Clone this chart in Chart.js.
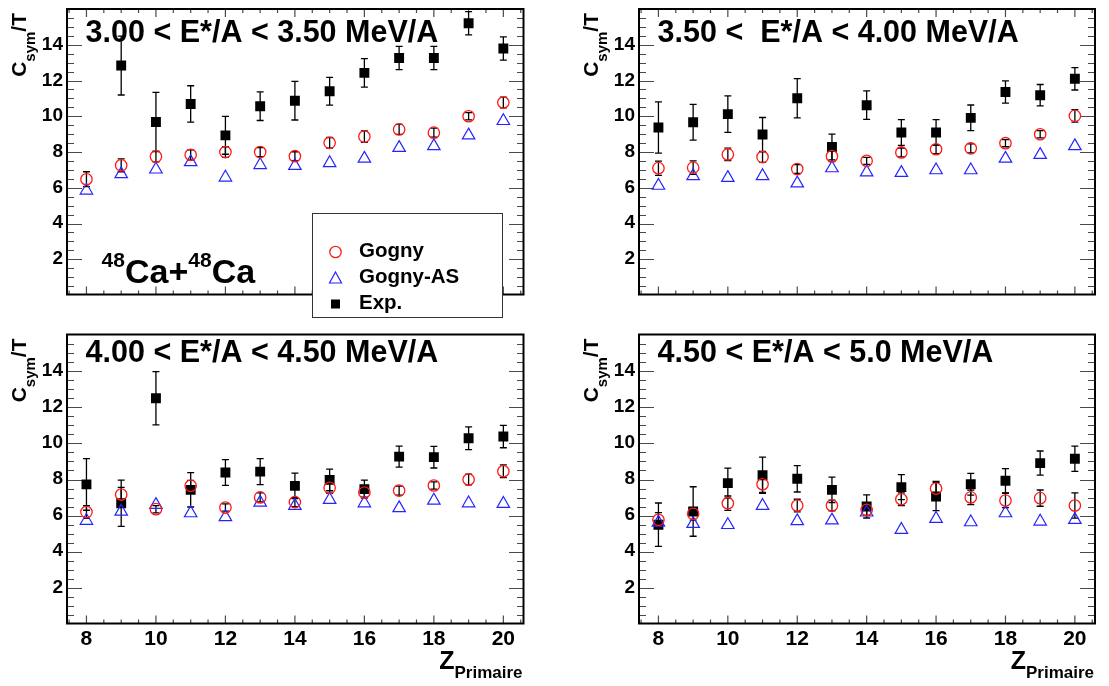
<!DOCTYPE html>
<html lang="en">
<head>
<meta charset="UTF-8">
<title>Csym/T vs Z primaire</title>
<script src="https://cdn.jsdelivr.net/npm/chart.js@4"></script>
<style>
  body { margin: 0; background: #ffffff; }
  #wrap { position: relative; width: 1109px; height: 686px; }
  #wrap canvas { position: absolute; left: 0; top: 0; }
</style>
</head>
<body>
<div id="wrap">
  <canvas id="p1" width="1109" height="686"></canvas>
  <canvas id="p2" width="1109" height="686"></canvas>
  <canvas id="p3" width="1109" height="686"></canvas>
  <canvas id="p4" width="1109" height="686"></canvas>
</div>
<script>
// ---- data ----
const zPrimaire = [8, 9, 10, 11, 12, 13, 14, 15, 16, 17, 18, 19, 20];
const xTickValues = [8, 10, 12, 14, 16, 18, 20];
const yTickValues = [2, 4, 6, 8, 10, 12, 14];
const seriesNames = ['Gogny', 'Gogny-AS', 'Exp.'];
const panelTitles = [
  '3.00 < E*/A < 3.50 MeV/A',
  '3.50 <  E*/A < 4.00 MeV/A',
  '4.00 < E*/A < 4.50 MeV/A',
  '4.50 < E*/A < 5.0 MeV/A'
];

// 3.00 - 3.50 MeV/A
const gogny1    = [6.46, 7.24, 7.73, 7.83, 7.98, 7.98, 7.75, 8.50, 8.85, 9.25, 9.07, 9.99, 10.76];
const gognyErr1 = [0.42, 0.36, 0.30, 0.28, 0.30, 0.25, 0.25, 0.30, 0.32, 0.28, 0.25, 0.20, 0.30];
const gognyAS1  = [5.83, 6.75, 7.01, 7.42, 6.56, 7.26, 7.21, 7.37, 7.62, 8.22, 8.32, 8.92, 9.73];
const exp1      = [null, 12.83, 9.67, 10.68, 8.92, 10.55, 10.86, 11.39, 12.42, 13.25, 13.25, 15.20, 13.79];
const expErr1   = [0, 1.65, 1.66, 1.02, 1.06, 0.80, 1.08, 0.78, 0.80, 0.65, 0.65, 0.65, 0.65];

// 3.50 - 4.00 MeV/A
const gogny2    = [7.08, 7.11, 7.85, 7.70, 7.03, 7.75, 7.49, 7.96, 8.14, 8.19, 8.48, 8.98, 10.01];
const gognyErr2 = [0.40, 0.38, 0.35, 0.30, 0.25, 0.30, 0.20, 0.25, 0.25, 0.25, 0.20, 0.20, 0.35];
const gognyAS2  = [6.10, 6.64, 6.54, 6.64, 6.23, 7.08, 6.85, 6.82, 6.97, 6.97, 7.62, 7.83, 8.32];
const exp2      = [9.36, 9.65, 10.11, 8.97, 11.00, 8.27, 10.61, 9.08, 9.08, 9.90, 11.35, 11.17, 12.09];
const expErr2   = [1.44, 1.00, 1.02, 0.95, 1.10, 0.72, 0.80, 0.72, 0.72, 0.72, 0.62, 0.60, 0.63];

// 4.00 - 4.50 MeV/A
const gogny3    = [6.17, 7.14, 6.33, 7.62, 6.42, 6.98, 6.72, 7.51, 7.25, 7.36, 7.64, 7.97, 8.43];
const gognyErr3 = [0.35, 0.40, 0.20, 0.30, 0.20, 0.25, 0.25, 0.30, 0.25, 0.25, 0.20, 0.30, 0.35];
const gognyAS3  = [5.69, 6.20, 6.57, 6.11, 5.89, 6.70, 6.52, 6.85, 6.66, 6.39, 6.81, 6.66, 6.63];
const exp3      = [7.70, 6.66, 12.47, 7.40, 8.36, 8.41, 7.62, 7.95, 7.44, 9.24, 9.21, 10.26, 10.35];
const expErr3   = [1.43, 1.28, 1.47, 0.95, 0.71, 0.72, 0.70, 0.60, 0.50, 0.58, 0.60, 0.63, 0.62];

// 4.50 - 5.0 MeV/A
const gogny4    = [5.74, 6.07, 6.66, 7.71, 6.53, 6.53, 6.29, 6.88, 7.47, 6.98, 6.81, 6.94, 6.53];
const gognyErr4 = [0.40, 0.35, 0.40, 0.45, 0.35, 0.30, 0.30, 0.35, 0.40, 0.40, 0.40, 0.45, 0.70];
const gognyAS4  = [5.59, 5.52, 5.46, 6.52, 5.67, 5.71, 6.15, 5.19, 5.80, 5.61, 6.11, 5.65, 5.74];
const exp4      = [5.47, 6.20, 7.77, 8.21, 8.01, 7.40, 6.48, 7.55, 7.03, 7.71, 7.90, 8.88, 9.12];
const expErr4   = [1.20, 1.37, 0.83, 1.00, 0.73, 0.70, 0.64, 0.69, 0.78, 0.60, 0.67, 0.67, 0.70];

// ---- look ----
const FONT = '"Liberation Sans", Arial, Helvetica, sans-serif';
const X_MIN = 7.44, X_MAX = 20.58, Y_MIN = 0, Y_MAX = 16;
const W = 1109, H = 686;
const RED = '#ff1a1a', BLUE = '#2424ff';
const TICK = '#4a4a4a';

function toPoints(vals, errs) {
  return zPrimaire
    .map((z, i) => ({ x: z, y: vals[i], err: errs ? errs[i] : 0 }))
    .filter(p => p.y !== null);
}

// draw a run of text pieces (sub/superscripts) left to right
function drawRich(ctx, parts, x, y, align) {
  let total = 0;
  parts.forEach(p => {
    ctx.font = 'bold ' + p.size + 'px ' + FONT;
    p.w = ctx.measureText(p.t).width;
    total += p.w;
  });
  let cx = align === 'right' ? x - total : x;
  parts.forEach(p => {
    ctx.font = 'bold ' + p.size + 'px ' + FONT;
    ctx.fillText(p.t, cx, y + p.dy);
    cx += p.w;
  });
}

function marker(ctx, style, x, y) {
  ctx.beginPath();
  if (style === 'circle') {
    ctx.strokeStyle = RED; ctx.lineWidth = 1.3;
    ctx.arc(x, y, 5.7, 0, Math.PI * 2);
    ctx.stroke();
  } else if (style === 'triangle') {
    ctx.strokeStyle = BLUE; ctx.lineWidth = 1.2;
    ctx.moveTo(x, y - 6); ctx.lineTo(x + 6, y + 5); ctx.lineTo(x - 6, y + 5); ctx.closePath();
    ctx.stroke();
  } else {
    ctx.fillStyle = '#000';
    ctx.fillRect(x - 4.5, y - 4.5, 9, 9);
  }
}

const rootStyle = {
  id: 'rootStyle',
  beforeDatasetsDraw(chart) {
    const cfg = chart.options.plugins.rootStyle;
    const ctx = chart.ctx, ys = chart.scales.y, xs = chart.scales.x;
    const a = chart.chartArea;
    const x0 = Math.round(a.left), x1 = Math.round(a.right);
    const y0 = Math.round(a.top), y1 = Math.round(a.bottom);
    ctx.save();

    // ROOT style tick marks pointing into the frame
    ctx.fillStyle = TICK;
    const ySteps = Math.round((Y_MAX - Y_MIN) * 2);
    for (let k = 1; k < ySteps; k++) {
      const py = Math.round(y1 - (k / ySteps) * (y1 - y0));
      const len = k % 4 === 0 ? 15 : 7;
      ctx.fillRect(x0, py, len, 1);
      ctx.fillRect(x1 - len, py, len, 1);
    }
    ctx.strokeStyle = TICK;
    ctx.lineWidth = 1.2;
    ctx.beginPath();
    for (let k = Math.ceil(X_MIN * 2); k <= Math.floor(X_MAX * 2); k++) {
      const px = xs.getPixelForValue(k / 2);
      const len = k % 4 === 0 ? 8 : 4;
      ctx.moveTo(px, a.bottom); ctx.lineTo(px, a.bottom - len);
      if (cfg.topTicks) { ctx.moveTo(px, a.top); ctx.lineTo(px, a.top + len); }
    }
    ctx.stroke();

    // error bars
    ctx.strokeStyle = '#000';
    ctx.lineWidth = 1.3;
    chart.data.datasets.forEach((ds, di) => {
      chart.getDatasetMeta(di).data.forEach((pt, i) => {
        const d = ds.data[i];
        if (!d.err) return;
        const t = ys.getPixelForValue(d.y + d.err);
        const b = ys.getPixelForValue(d.y - d.err);
        ctx.beginPath();
        ctx.moveTo(pt.x, t); ctx.lineTo(pt.x, b);
        ctx.moveTo(pt.x - 3.5, t); ctx.lineTo(pt.x + 3.5, t);
        ctx.moveTo(pt.x - 3.5, b); ctx.lineTo(pt.x + 3.5, b);
        ctx.stroke();
      });
    });
    ctx.restore();
  },
  afterDraw(chart) {
    const cfg = chart.options.plugins.rootStyle;
    const ctx = chart.ctx;
    const a = chart.chartArea;
    ctx.save();

    // frame
    ctx.strokeStyle = '#000';
    ctx.lineWidth = 2;
    ctx.strokeRect(a.left, a.top, a.right - a.left, a.bottom - a.top);

    ctx.fillStyle = '#000';
    ctx.textBaseline = 'alphabetic';
    ctx.textAlign = 'left';

    // panel title
    ctx.font = 'bold 30.5px ' + FONT;
    ctx.fillText(cfg.title, a.left + 18.6, a.top + cfg.titleDy);

    // y title, rotated, ending near the top of the frame
    ctx.save();
    ctx.translate(a.left - 41, a.top + 4);
    ctx.rotate(-Math.PI / 2);
    drawRich(ctx, [
      { t: 'C', size: 21, dy: 0 },
      { t: 'sym', size: 15, dy: 9 },
      { t: '/T', size: 21, dy: 0 }
    ], 0, 0, 'right');
    ctx.restore();

    // x title
    if (cfg.xTitle) {
      drawRich(ctx, [
        { t: 'Z', size: 25, dy: 0 },
        { t: 'Primaire', size: 17, dy: 9 }
      ], a.right - 1, a.bottom + 45.5, 'right');
    }

    // legend + reaction label
    if (cfg.legend) {
      const lx = a.left + 245, ly = a.top + 204;
      ctx.fillStyle = '#fff';
      ctx.fillRect(lx, ly, 190, 104);
      ctx.strokeStyle = '#333';
      ctx.lineWidth = 1;
      ctx.strokeRect(lx + 0.5, ly + 0.5, 190, 104);
      const styles = ['circle', 'triangle', 'rect'];
      seriesNames.forEach((name, i) => {
        const by = ly + 44 + i * 26;
        marker(ctx, styles[i], lx + 23.5, by - 5);
        ctx.fillStyle = '#000';
        ctx.font = 'bold 20.5px ' + FONT;
        ctx.fillText(name, lx + 47, by);
      });

      ctx.fillStyle = '#000';
      drawRich(ctx, [
        { t: '48', size: 21, dy: -16 },
        { t: 'Ca+', size: 34, dy: 0 },
        { t: '48', size: 21, dy: -16 },
        { t: 'Ca', size: 34, dy: 0 }
      ], a.left + 34.6, a.top + 274, 'left');
    }
    ctx.restore();
  }
};

function makePanel(id, title, gogny, gognyErr, gognyAS, exp, expErr, box) {
  new Chart(document.getElementById(id), {
    type: 'scatter',
    data: {
      datasets: [
        {
          label: seriesNames[0],
          data: toPoints(gogny, gognyErr),
          pointStyle: 'circle',
          pointRadius: 5.7,
          pointBorderWidth: 1.3,
          pointBorderColor: RED,
          pointBackgroundColor: 'rgba(0,0,0,0)'
        },
        {
          label: seriesNames[1],
          data: toPoints(gognyAS, null),
          pointStyle: 'triangle',
          pointRadius: 7.2,
          pointBorderWidth: 1.2,
          pointBorderColor: BLUE,
          pointBackgroundColor: 'rgba(0,0,0,0)'
        },
        {
          label: seriesNames[2],
          data: toPoints(exp, expErr),
          pointStyle: 'rect',
          pointRadius: 7,
          pointBorderWidth: 0,
          pointBorderColor: '#000',
          pointBackgroundColor: '#000'
        }
      ]
    },
    options: {
      responsive: false,
      animation: false,
      events: [],
      layout: {
        padding: {
          left: box.l - 40,
          right: W - box.r,
          top: box.t,
          bottom: box.xLabels ? H - box.b - 40 : H - box.b
        }
      },
      scales: {
        x: {
          type: 'linear',
          min: X_MIN,
          max: X_MAX,
          display: box.xLabels,
          grid: { display: false, drawTicks: false, tickLength: 0 },
          border: { display: false },
          afterBuildTicks: s => { s.ticks = xTickValues.map(v => ({ value: v })); },
          afterFit: s => { s.height = 40; s.paddingLeft = 0; s.paddingRight = 0; },
          ticks: {
            color: '#000',
            padding: 3,
            maxRotation: 0,
            font: { family: FONT, size: 21, weight: 'bold' }
          }
        },
        y: {
          type: 'linear',
          min: Y_MIN,
          max: Y_MAX,
          grid: { display: false, drawTicks: false, tickLength: 0 },
          border: { display: false },
          afterBuildTicks: s => { s.ticks = yTickValues.map(v => ({ value: v })); },
          afterFit: s => { s.width = 40; s.paddingTop = 0; s.paddingBottom = 0; },
          ticks: {
            color: '#000',
            padding: 4,
            font: { family: FONT, size: 19, weight: 'bold' }
          }
        }
      },
      plugins: {
        legend: { display: false },
        tooltip: { enabled: false },
        rootStyle: {
          title: title,
          titleDy: box.titleDy,
          topTicks: !box.xLabels,
          xTitle: box.xLabels,
          legend: box.legend
        }
      }
    },
    plugins: [rootStyle]
  });
}

makePanel('p1', panelTitles[0], gogny1, gognyErr1, gognyAS1, exp1, expErr1,
  { l: 67, r: 523.5, t: 9, b: 334.5, xLabels: false, titleDy: 33, legend: true });
makePanel('p2', panelTitles[1], gogny2, gognyErr2, gognyAS2, exp2, expErr2,
  { l: 639, r: 1095, t: 9, b: 334.5, xLabels: false, titleDy: 33, legend: false });
makePanel('p3', panelTitles[2], gogny3, gognyErr3, gognyAS3, exp3, expErr3,
  { l: 67, r: 523.5, t: 334.5, b: 623.5, xLabels: true, titleDy: 27.5, legend: false });
makePanel('p4', panelTitles[3], gogny4, gognyErr4, gognyAS4, exp4, expErr4,
  { l: 639, r: 1095, t: 334.5, b: 623.5, xLabels: true, titleDy: 27.5, legend: false });
</script>
</body>
</html>
